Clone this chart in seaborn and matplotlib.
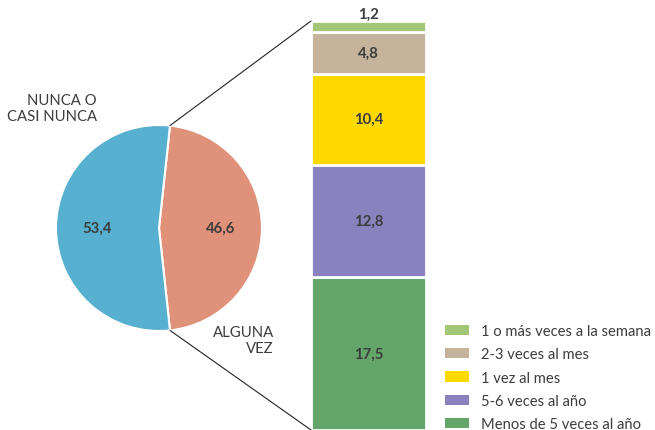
import matplotlib
matplotlib.use("Agg")
import matplotlib.pyplot as plt
from matplotlib.patches import ConnectionPatch, Patch
import seaborn as sns
import pandas as pd
import numpy as np

# ---- data ----
pie_labels = ["ALGUNA\nVEZ", "NUNCA O\nCASI NUNCA"]
pie_values = [46.6, 53.4]
pie_colors = ["#E0917A", "#57B0CF"]

stack_categories = ["Menos de 5 veces al año", "5-6 veces al año", "1 vez al mes",
                    "2-3 veces al mes", "1 o más veces a la semana"]
stack_values = [17.5, 12.8, 10.4, 4.8, 1.2]
stack_colors = ["#64A569", "#8A82BF", "#FDD900", "#C5B49B", "#A3C677"]

sns.set_theme(style="white")
plt.rcParams["font.family"] = ["Lato", "DejaVu Sans"]

W, H = 655, 431
fig = plt.figure(figsize=(W / 100, H / 100), dpi=100)
fig.patch.set_facecolor("white")

def fx(px):
    return px / W

def fy(py):
    return 1 - py / H

txt_dark = "#3c3c3c"
vfs = 10.7

# ---- pie ----
cx, cy, r = 159, 229, 103
ax_pie = fig.add_axes([fx(cx - r), fy(cy + r), 2 * r / W, 2 * r / H])
start = -pie_values[0] / 100 * 360 / 2
wedges, _ = ax_pie.pie(pie_values, colors=pie_colors, startangle=start, counterclock=True,
                       wedgeprops=dict(edgecolor="white", linewidth=1.5))
ax_pie.set_xlim(-1, 1)
ax_pie.set_ylim(-1, 1)
ax_pie.set_aspect("equal")
ax_pie.axis("off")
for w in wedges:
    w.set_clip_on(False)

# value labels inside wedges
for val, w in zip(pie_values, wedges):
    ang = np.deg2rad((w.theta1 + w.theta2) / 2)
    ax_pie.text(0.6 * np.cos(ang), 0.0, f"{val:.1f}".replace(".", ","),
                ha="center", va="center", fontsize=vfs, fontweight="bold", color=txt_dark)

# category labels
fig.text(fx(97), fy(109), pie_labels[1], ha="right", va="center", fontsize=10.7,
         color=txt_dark, linespacing=1.1)
fig.text(fx(274), fy(341), pie_labels[0], ha="right", va="center", fontsize=10.7,
         color=txt_dark, linespacing=1.1)

# ---- stacked bar ----
total = sum(stack_values)
ax_bar = fig.add_axes([fx(311), 0, 115 / W, (431 - 22) / H])
df = pd.DataFrame({"cat": stack_categories, "val": stack_values, "color": stack_colors})
df["bottom"] = df["val"].cumsum() - df["val"]
ax_bar.bar(np.zeros(len(df)), df["val"], bottom=df["bottom"], width=1.0,
           color=df["color"], edgecolor="white", linewidth=2)
ax_bar.set_xlim(-0.5, 0.5)
ax_bar.set_ylim(0, total)
ax_bar.axis("off")

for _, row in df.iterrows():
    label = f"{row['val']:.1f}".replace(".", ",")
    if row["val"] < 3:
        ax_bar.text(0, row["bottom"] + row["val"], label, ha="center", va="bottom",
                    fontsize=vfs, fontweight="bold", color=txt_dark, clip_on=False)
    else:
        ax_bar.text(0, row["bottom"] + row["val"] / 2, label, ha="center", va="center",
                    fontsize=vfs, fontweight="bold", color=txt_dark)

# ---- connection lines ----
ang_top = np.deg2rad(wedges[0].theta2)
ang_bot = np.deg2rad(wedges[0].theta1)
for ang, ybar in [(ang_top, total), (ang_bot, 0)]:
    con = ConnectionPatch(xyA=(np.cos(ang), np.sin(ang)), coordsA=ax_pie.transData,
                          xyB=(-0.5, ybar), coordsB=ax_bar.transData,
                          color="#222222", linewidth=0.8)
    fig.add_artist(con)

# ---- legend ----
handles = [Patch(facecolor=c, edgecolor="none") for c in stack_colors[::-1]]
leg = fig.legend(handles, stack_categories[::-1], loc="upper left",
                 bbox_to_anchor=(fx(445), fy(325)), frameon=False, fontsize=10.6,
                 handlelength=1.65, handleheight=0.7, handletextpad=0.8,
                 labelspacing=0.63, borderaxespad=0, borderpad=0)
for t in leg.get_texts():
    t.set_color(txt_dark)

fig.savefig("out.png", dpi=100, facecolor="white")
